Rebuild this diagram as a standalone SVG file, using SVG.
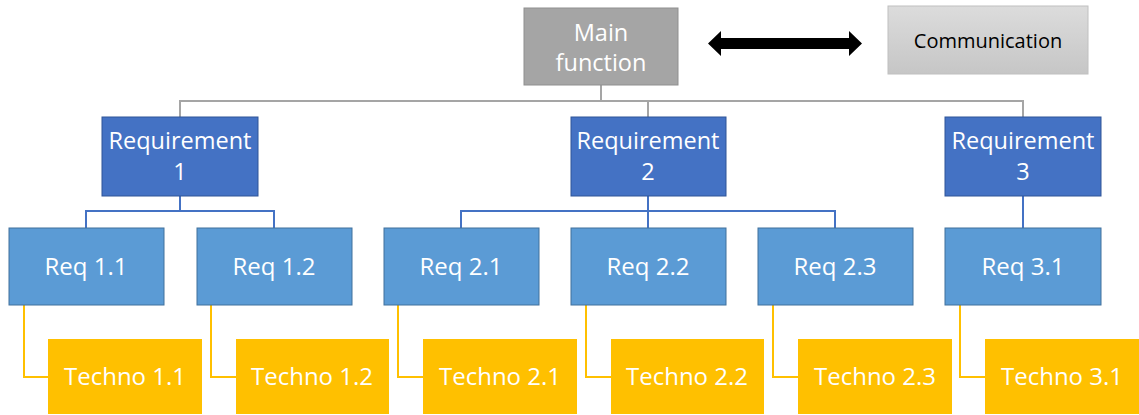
<svg xmlns="http://www.w3.org/2000/svg" width="1139" height="415" viewBox="0 0 1139 415">
<defs>
<linearGradient id="gComm" x1="0" y1="0" x2="0" y2="1">
<stop offset="0" stop-color="#dcdcdc"/>
<stop offset="1" stop-color="#c6c6c6"/>
</linearGradient>
<style>
text{font-family:"Open Sans","Liberation Sans",sans-serif;text-anchor:middle;fill:#fff;}
.main{fill:#a5a5a5;stroke:#8f8f8f;stroke-width:1}
.comm{fill:url(#gComm);stroke:#c0c0c0;stroke-width:1}
.r1{fill:#4472c4;stroke:#2f5597;stroke-width:1}
.r2{fill:#5b9bd5;stroke:#41719c;stroke-width:1}
.t{fill:#ffc000;}
.t1{font-size:23.5px}
.t2{font-size:24px}
.cg{fill:none;stroke:#a5a5a5;stroke-width:2}
.cb{fill:none;stroke:#4472c4;stroke-width:2}
.cy{fill:none;stroke:#ffc000;stroke-width:2}
</style>
</defs>
<g id="connectors">
<path class="cg" d="M601,85 V101 M180,117 V101 H1023 V118 M648,101 V117"/>
<path class="cb" d="M180,196 V211 M86,228 V211 H274 V228"/>
<path class="cb" d="M648,196 V228 M461,228 V211 H835 V228"/>
<path class="cb" d="M1023,196 V228"/>
<path class="cy" d="M24,305 V377 H48 M211,305 V377 H236 M398,305 V377 H423 M586,305 V377 H611 M773,305 V377 H798 M960,305 V377 H985"/>
<polygon points="708,43.5 721,31 721,38 849,38 849,31 862,43.5 849,56 849,49 721,49 721,56" fill="#000"/>
</g>
<g id="main"><rect class="main" x="524" y="8" width="154" height="77"/><text class="t1" x="601" y="41">Main</text><text class="t1" x="601" y="71">function</text></g>
<g id="comm"><rect class="comm" x="888" y="6" width="200" height="68"/><text x="988" y="48" style="fill:#000;font-size:20px">Communication</text></g>
<g id="req1"><rect class="r1" x="102" y="117" width="156" height="79"/><text class="t1" x="180" y="149">Requirement</text><text class="t1" x="180" y="180">1</text></g>
<g id="req2"><rect class="r1" x="571" y="117" width="155" height="79"/><text class="t1" x="648" y="149">Requirement</text><text class="t1" x="648" y="180">2</text></g>
<g id="req3"><rect class="r1" x="945" y="117" width="156" height="79"/><text class="t1" x="1023" y="149">Requirement</text><text class="t1" x="1023" y="180">3</text></g>
<g id="req11"><rect class="r2" x="9" y="228" width="155" height="77"/><text class="t2" x="86" y="275">Req 1.1</text></g>
<g id="req12"><rect class="r2" x="197" y="228" width="155" height="77"/><text class="t2" x="274" y="275">Req 1.2</text></g>
<g id="req21"><rect class="r2" x="384" y="228" width="155" height="77"/><text class="t2" x="461" y="275">Req 2.1</text></g>
<g id="req22"><rect class="r2" x="571" y="228" width="155" height="77"/><text class="t2" x="648" y="275">Req 2.2</text></g>
<g id="req23"><rect class="r2" x="758" y="228" width="155" height="77"/><text class="t2" x="835" y="275">Req 2.3</text></g>
<g id="req31"><rect class="r2" x="945" y="228" width="156" height="77"/><text class="t2" x="1023" y="275">Req 3.1</text></g>
<g id="tech11"><rect class="t" x="48" y="339" width="154" height="75"/><text class="t2" x="125" y="385">Techno 1.1</text></g>
<g id="tech12"><rect class="t" x="236" y="339" width="153" height="75"/><text class="t2" x="312" y="385">Techno 1.2</text></g>
<g id="tech21"><rect class="t" x="423" y="339" width="154" height="75"/><text class="t2" x="500" y="385">Techno 2.1</text></g>
<g id="tech22"><rect class="t" x="611" y="339" width="153" height="75"/><text class="t2" x="687" y="385">Techno 2.2</text></g>
<g id="tech23"><rect class="t" x="798" y="339" width="154" height="75"/><text class="t2" x="875" y="385">Techno 2.3</text></g>
<g id="tech31"><rect class="t" x="985" y="339" width="154" height="75"/><text class="t2" x="1062" y="385">Techno 3.1</text></g>
</svg>
